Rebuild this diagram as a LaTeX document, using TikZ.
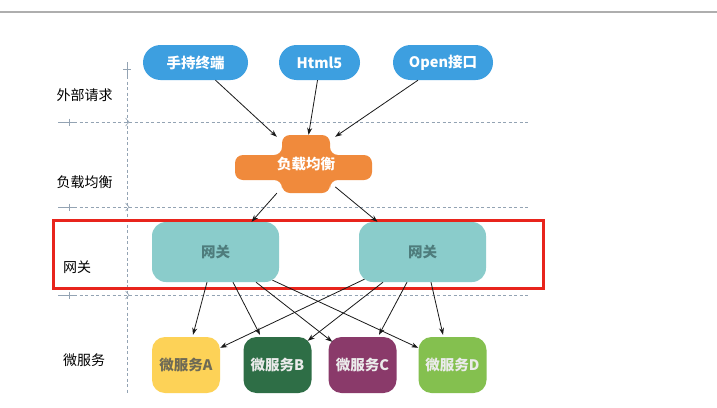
\documentclass[tikz,border=0pt]{standalone}
\usepackage{fontspec}
\setmainfont{Noto Sans CJK SC}
\usetikzlibrary{arrows.meta}
\definecolor{pillblue}{HTML}{3D9FE0}
\definecolor{lborange}{HTML}{F08A3C}
\definecolor{gwteal}{HTML}{8ACCCB}
\definecolor{gwtext}{HTML}{4E7C7C}
\definecolor{msyellow}{HTML}{FDD257}
\definecolor{msatext}{HTML}{6E6A55}
\definecolor{msgreen}{HTML}{2E6E46}
\definecolor{mspurple}{HTML}{8A3A6A}
\definecolor{mslime}{HTML}{84C04F}
\definecolor{redbox}{HTML}{E8241C}
\definecolor{guidegray}{HTML}{93A3B3}
\definecolor{topline}{HTML}{AEAEAE}
\begin{document}
\begin{tikzpicture}[x=1pt,y=-1pt,
  boxfont/.style={font=\fontsize{14.5}{17}\selectfont\bfseries},
  pill/.style={boxfont, fill=pillblue, rounded corners=17.5pt, minimum height=35pt, inner sep=0pt, text=white},
  gw/.style={boxfont, fill=gwteal, rounded corners=14pt, minimum width=127pt, minimum height=60pt, inner sep=0pt, text=gwtext},
  ms/.style={boxfont, rounded corners=13pt, minimum width=68pt, minimum height=56pt, inner sep=0pt},
  lbl/.style={font=\fontsize{14}{17}\selectfont, text=black, inner sep=0pt},
  conn/.style={-{Stealth[length=7pt,width=5pt]}, line width=0.8pt, draw=black!90},
  guide/.style={draw=guidegray, line width=0.8pt, dash pattern=on 3pt off 2.5pt},
  guidesolid/.style={draw=guidegray, line width=0.8pt}
]
\useasboundingbox[fill=white] (0,0) rectangle (717,407);
% top gray line
\draw[topline, line width=1.2pt] (0,12) -- (717,12);

% guide lines
\draw[guide] (127,76) -- (127,393);
\draw[guidesolid] (127,62) -- (127,76) (123,69) -- (131,69);
\foreach \yy in {122,207,295}{
  \draw[guide] (74,\yy) -- (530,\yy);
  \draw[guidesolid] (58,\yy) -- (74,\yy) (69,\yy-3.5) -- (69,\yy+3.5);
  \draw[guidesolid, line width=0.6pt] (125.5,\yy-4) -- (129,\yy) -- (125.5,\yy+4);
}

% left labels
\node[lbl, anchor=west] (l1) at (56.5,95) {外部请求};
\node[lbl, anchor=west] (l2) at (56.5,182) {负载均衡};
\node[lbl, anchor=west] (l3) at (63,267) {网关};
\node[lbl, anchor=west] (l4) at (63,360) {微服务};

% top nodes
\node[pill, minimum width=105pt] (t1) at (195.5,62.5) {手持终端};
\node[pill, minimum width=81pt] (t2) at (319.5,62.5) {Html5};
\node[pill, minimum width=100pt] (t3) at (443,62.5) {Open接口};

% load balancer cross shape
\fill[lborange, rounded corners=8pt] (306,135) -- (330,135) -- (330,155) -- (372,155) -- (372,180) -- (330,180) -- (330,193) -- (282,193) -- (282,180) -- (235,180) -- (235,155) -- (282,155) -- (282,135) -- cycle;
\node[boxfont, inner sep=0pt, minimum width=48pt, minimum height=58pt, text=white] (lb) at (306,164) {负载均衡};

% gateways
\node[gw] (g1) at (215.5,252) {网关};
\node[gw] (g2) at (422.5,252) {网关};

% microservices
\node[ms, fill=msyellow, text=msatext] (a) at (186,365) {微服务A};
\node[ms, fill=msgreen, text=white!92!black] (b) at (277.5,365) {微服务B};
\node[ms, fill=mspurple, text=white!92!black] (c) at (362.5,365) {微服务C};
\node[ms, fill=mslime, text=white!92!black] (d) at (452.5,365) {微服务D};

% red highlight box
\draw[redbox, line width=3pt] (53,220) rectangle (543,288);

% connectors: requests to load balancer
\draw[conn] ([xshift=20pt]t1.south) -- (lb.137);
\draw[conn] ([xshift=-2pt]t2.south) -- (lb.85);
\draw[conn] ([xshift=-25pt]t3.south) -- (lb.43);

% load balancer to gateways
\draw[conn] (lb.-135) -- ([xshift=36pt]g1.north);
\draw[conn] (lb.-38) -- ([xshift=-45pt]g2.north);

% gateway 1 to services
\draw[conn] ([xshift=-8.5pt]g1.south) -- ([xshift=7pt,yshift=2pt]a.north);
\draw[conn] ([xshift=17.5pt]g1.south) -- ([xshift=-17.5pt,yshift=2pt]b.north);
\draw[conn] ([xshift=40.5pt]g1.south) -- ([xshift=4pt,yshift=-5pt]c.north west);
\draw[conn] ([xshift=57pt,yshift=2pt]g1.south) -- ([yshift=-11pt]d.north west);

% gateway 2 to services
\draw[conn] ([xshift=-58pt,yshift=3pt]g2.south) -- ([yshift=-11pt]a.north east);
\draw[conn] ([xshift=-39.5pt]g2.south) -- ([xshift=-4pt,yshift=-4pt]b.north east);
\draw[conn] ([xshift=-15.5pt]g2.south) -- ([xshift=16.5pt,yshift=2pt]c.north);
\draw[conn] ([xshift=8.5pt]g2.south) -- ([xshift=-9.5pt,yshift=2pt]d.north);
\end{tikzpicture}
\end{document}
